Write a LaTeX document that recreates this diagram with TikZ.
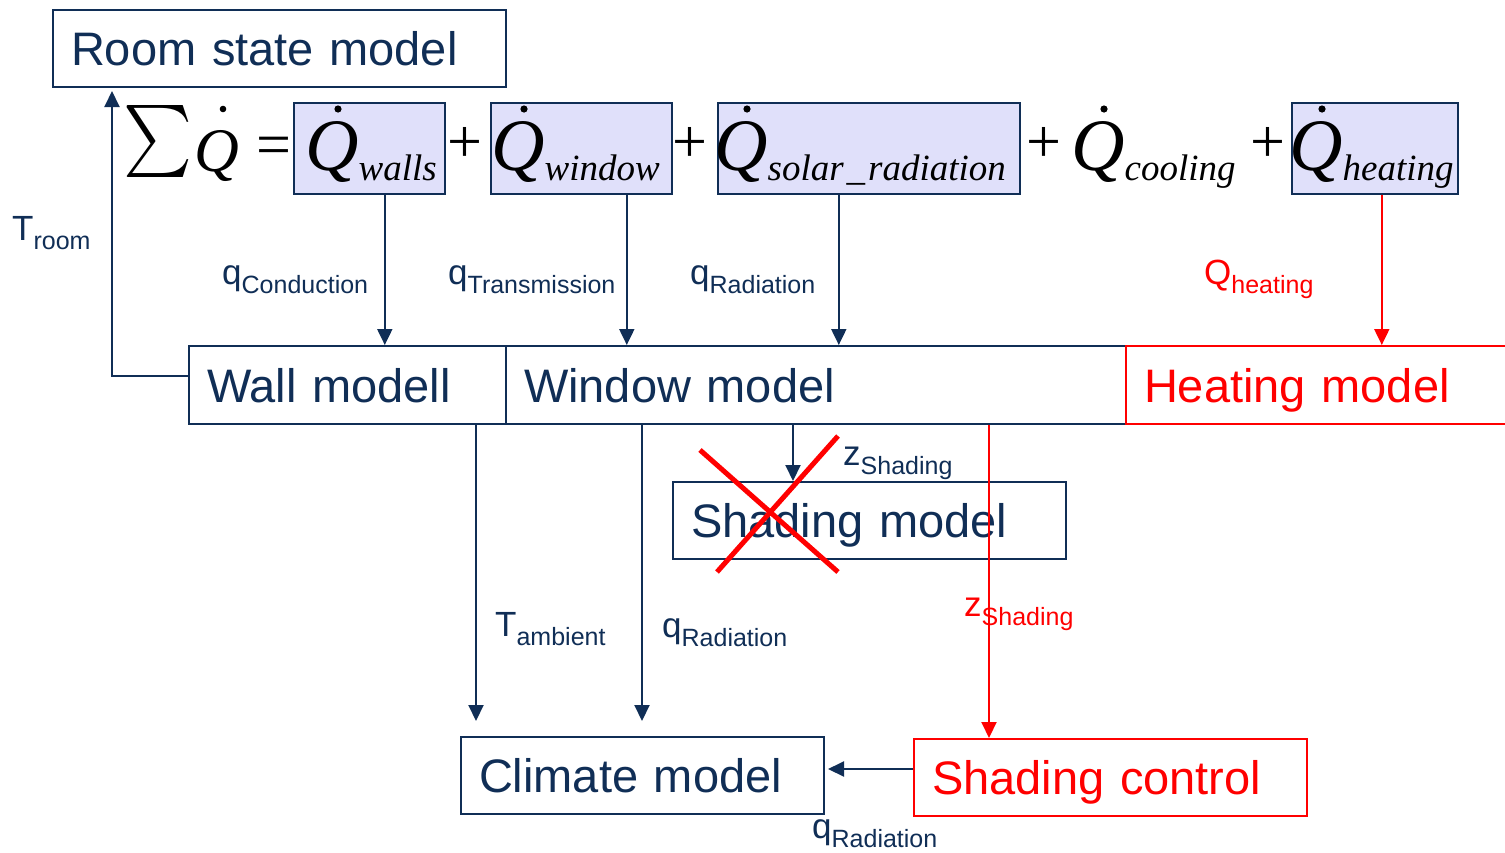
\documentclass[tikz,border=0pt]{standalone}
\usepackage{fontspec}
\usepackage{graphicx}
\setmainfont{Liberation Sans}
\newfontfamily\eqfont{Liberation Serif}
\usetikzlibrary{arrows.meta}

\definecolor{navy}{RGB}{16,46,86}
\definecolor{lav}{RGB}{224,224,250}
\definecolor{hot}{RGB}{255,0,0}

% signal label: main symbol with a lowered subscript word
\newcommand{\sig}[2]{{\fontsize{35}{35}\selectfont #1}{\fontsize{25}{25}\selectfont\raisebox{-9.5pt}{#2}}}
% italic Q of a heat flow term, at a given size
\newcommand{\Qit}[1]{{\fontsize{#1}{#1}\selectfont\eqfont\itshape Q}}
% italic subscript of a heat flow term
\newcommand{\Qsub}[1]{{\fontsize{37}{37}\selectfont\eqfont\itshape\raisebox{-10pt}{#1}}}

\begin{document}
\begin{tikzpicture}[x=1pt,y=-1pt,
  model/.style={draw=navy, line width=2pt, text=navy, anchor=north west,
    font=\fontsize{47}{50}\selectfont, inner xsep=18pt, inner ysep=0pt,
    text height=34pt, text depth=0pt, align=left},
  hotmodel/.style={model, draw=hot, text=hot},
  eqbox/.style={draw=navy, fill=lav, line width=1.6pt, anchor=north west,
    inner sep=0pt, minimum height=91pt},
  eq/.style={anchor=base west, inner sep=0pt, text=black},
  op/.style={anchor=center, inner sep=0pt, text=black,
    font=\fontsize{62}{62}\selectfont\eqfont},
  lab/.style={anchor=base west, inner sep=0pt, text=navy},
  hotlab/.style={lab, text=hot},
  arr/.style={draw=navy, line width=2pt, -{Triangle[length=16pt,width=15pt]}},
  hotarr/.style={arr, draw=hot, fill=hot},
  timedot/.style={fill=black}
]
\path[use as bounding box] (0,0) rectangle (1505,852);
\clip (0,0) rectangle (1505,852);

% model blocks
\node[model, text width=417pt, minimum height=77pt] (room) at (52,9) {Room state model};
\node[model, text width=281pt, minimum height=78pt] (wall) at (188,345) {Wall modell};
\node[model, text width=584pt, minimum height=78pt] (window) at (505,345) {Window model};
\node[hotmodel, text width=364pt, minimum height=78pt] (heatm) at (1125,345) {Heating model};
\node[model, text width=357pt, minimum height=77pt] (shadm) at (672,481) {Shading model};
\node[model, text width=327pt, minimum height=77pt] (climate) at (460,736) {Climate model};
\node[hotmodel, text width=357pt, minimum height=77pt] (shadc) at (913,738) {Shading control};

% heat balance: highlighted terms
\node[eqbox, minimum width=151pt] (eqwalls) at (293,102) {};
\node[eqbox, minimum width=181pt] (eqwindow) at (490,102) {};
\node[eqbox, minimum width=302pt] (eqsolar) at (717,102) {};
\node[eqbox, minimum width=166pt] (eqheat) at (1291,102) {};

% heat balance: symbols
\node[anchor=south west, inner sep=0pt] (sumsign) at (123,178) {\resizebox*{69pt}{72pt}{$\sum$}};
\node[eq] (qsum) at (194,171) {\Qit{62}};
\node[op] (eqsign) at (274,151) {=};
\node[eq] (qwalls) at (305,170) {\Qit{74}\Qsub{walls}};
\node[op] (plus1) at (465,145) {+};
\node[eq] (qwindow) at (491,170) {\Qit{74}\Qsub{window}};
\node[op] (plus2) at (690,145) {+};
\node[eq] (qsolar) at (714,170) {\Qit{74}\Qsub{solar\hspace{3pt}\_\hspace{3pt}radiation}};
\node[op] (plus3) at (1044,145) {+};
\node[eq] (qcool) at (1071,170) {\Qit{74}\Qsub{cooling}};
\node[op] (plus4) at (1268,145) {+};
\node[eq] (qheat) at (1289,170) {\Qit{74}\Qsub{heating}};

% time-derivative dots over each Q
\fill[timedot] ([xshift=29pt,yshift=62pt]qsum.base west) circle (3.3pt);
\foreach \q in {qwalls,qwindow,qsolar,qcool,qheat}
  \fill[timedot] ([xshift=33pt,yshift=61pt]\q.base west) circle (3.6pt);

% signal labels
\node[lab] (ltroom) at (12,240) {\sig{T}{room}};
\node[lab] (lcond) at (222,284) {\sig{q}{Conduction}};
\node[lab] (ltrans) at (448,284) {\sig{q}{Transmission}};
\node[lab] (lrad1) at (690,284) {\sig{q}{Radiation}};
\node[hotlab] (lheat) at (1204,284) {\sig{Q}{heating}};
\node[lab] (lzs1) at (843,465) {\sig{z}{Shading}};
\node[lab] (lamb) at (495,636) {\sig{T}{ambient}};
\node[lab] (lrad2) at (662,637) {\sig{q}{Radiation}};
\node[hotlab] (lzs2) at (964,616) {\sig{z}{Shading}};
\node[lab] (lrad3) at (812,838) {\sig{q}{Radiation}};

% connectors
\draw[arr, shorten >=3pt] ([yshift=9pt]wall.west) -| ([xshift=-167.5pt]room.south);
\draw[arr] ([xshift=15.5pt]eqwalls.south) -- ([xshift=15.5pt]eqwalls.south |- wall.north);
\draw[arr] ([xshift=45.5pt]eqwindow.south) -- ([xshift=45.5pt]eqwindow.south |- window.north);
\draw[arr] ([xshift=-30pt]eqsolar.south) -- ([xshift=-30pt]eqsolar.south |- window.north);
\draw[hotarr] ([xshift=7pt]eqheat.south) -- ([xshift=7pt]eqheat.south |- heatm.north);
\draw[arr, shorten >=15pt] ([xshift=128.5pt]wall.south) -- ([xshift=128.5pt]wall.south |- climate.north);
\draw[arr, shorten >=15pt] ([xshift=-174pt]window.south) -- ([xshift=-174pt]window.south |- climate.north);
\draw[arr] ([xshift=-23pt]window.south) -- ([xshift=-23pt]window.south |- shadm.north);
\draw[hotarr] ([xshift=173pt]window.south) -- ([xshift=173pt]window.south |- shadc.north);
\draw[arr, shorten >=3pt] ([yshift=8.5pt]shadc.west) -- ([yshift=8.5pt]shadc.west -| climate.east);

% the shading model is struck out
\draw[hot, line width=5pt] (700,450) -- (838,572) (838,436) -- (717,572);
\end{tikzpicture}
\end{document}
